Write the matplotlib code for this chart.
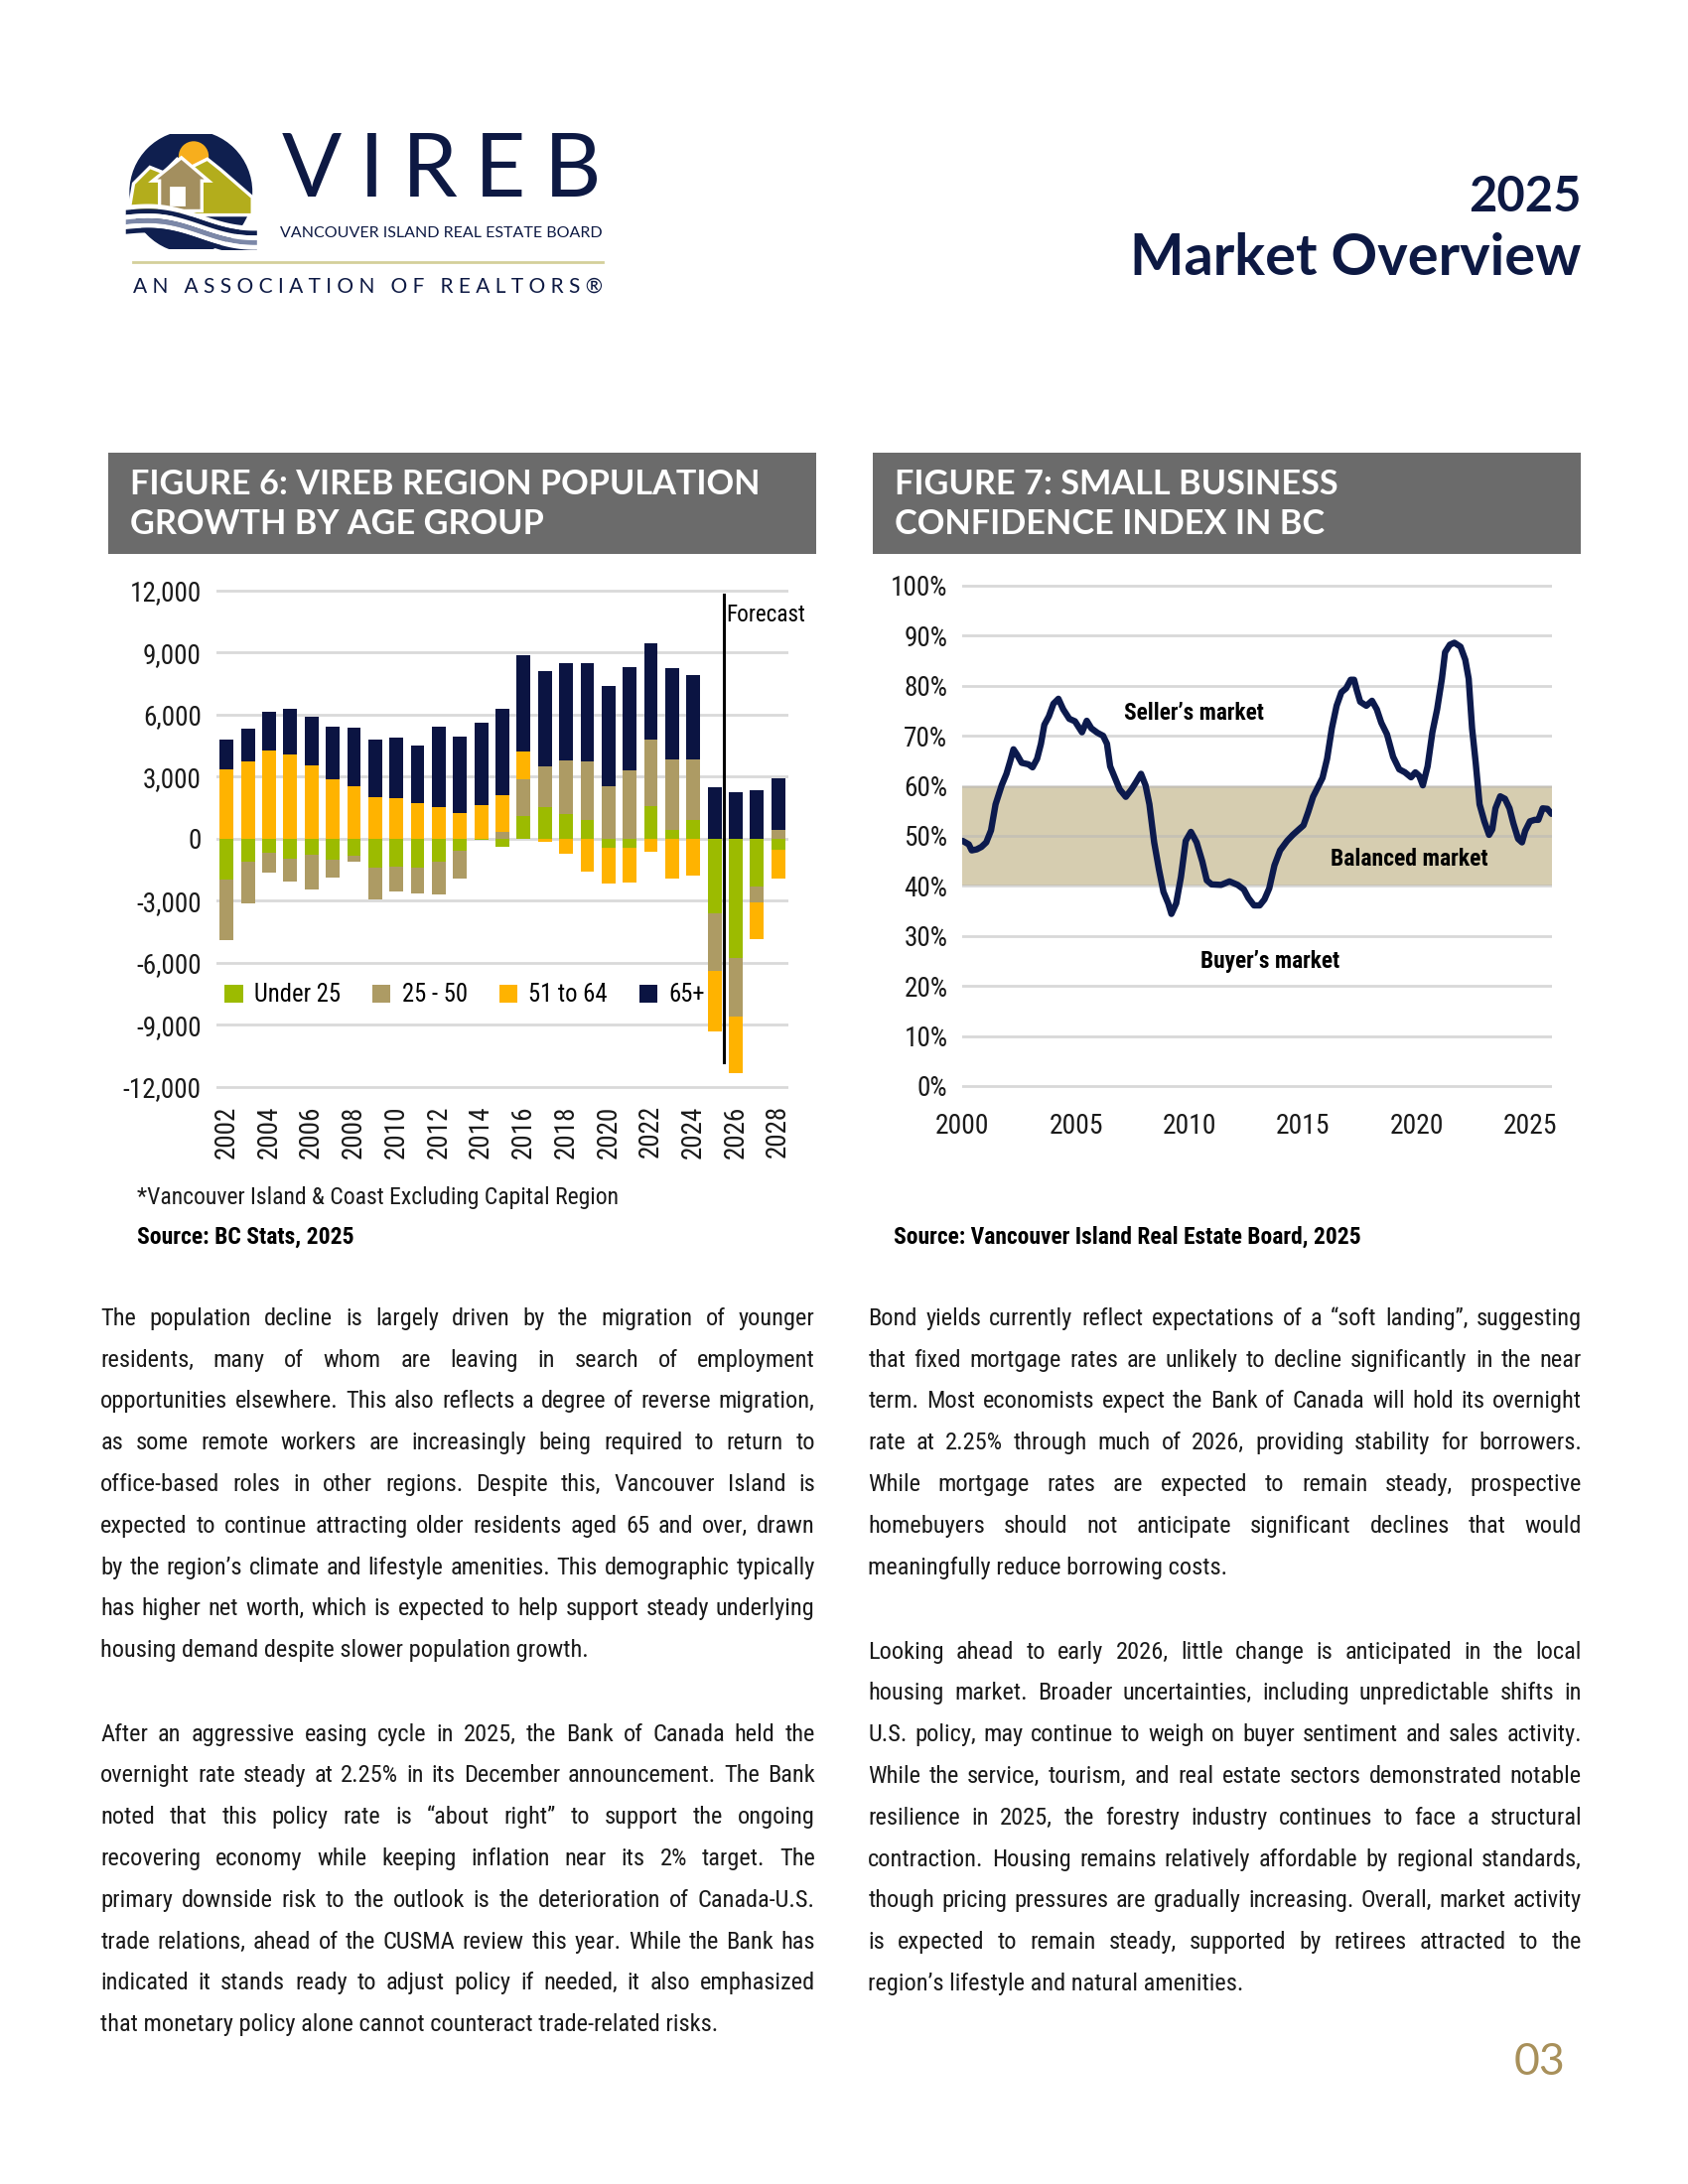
import os
import numpy as np
import matplotlib
matplotlib.use('Agg')
import matplotlib.pyplot as plt
from matplotlib import font_manager as fm
from matplotlib.patches import Rectangle, Circle, Polygon

# ---------------- DATA ----------------
years = list(range(2002, 2029))
under_25 = [-1960, -1130, -670, -960, -760, -1000, -840, -1380, -1360, -1390, -1120, -580, -80,
            -380, 1100, 1500, 1170, 890, -450, -450, 1580, 410, 890, -3590, -5760, -2290, -520]
age_25_50 = [-2960, -2000, -980, -1120, -1720, -890, -290, -1560, -1200, -1260, -1600, -1350, 0,
             330, 1750, 1970, 2590, 2820, 2540, 3280, 3200, 3440, 2960, -2800, -2850, -790, 400]
age_51_64 = [3370, 3730, 4250, 4060, 3540, 2890, 2540, 2010, 1940, 1700, 1500, 1220, 1600,
             1750, 1360, -140, -720, -1580, -1720, -1680, -620, -1910, -1790, -2930, -2720, -1790, -1390]
age_65_plus = [1410, 1600, 1900, 2210, 2370, 2540, 2820, 2790, 2930, 2800, 3900, 3700, 4000,
               4180, 4630, 4640, 4730, 4770, 4830, 5010, 4660, 4370, 4040, 2490, 2220, 2360, 2510]
age_groups = ['Under 25', '25 - 50', '51 to 64', '65+']
pop_yticks = [-12000, -9000, -6000, -3000, 0, 3000, 6000, 9000, 12000]
pop_xticks = list(range(2002, 2029, 2))
forecast_label = 'Forecast'

sbci_time = [2000.0, 2000.27, 2000.4, 2000.62, 2000.83, 2001.04, 2001.25, 2001.45, 2001.72, 2001.93,
             2002.1, 2002.24, 2002.4, 2002.6, 2002.9, 2003.08, 2003.28, 2003.45, 2003.6, 2003.8,
             2004.0, 2004.22, 2004.43, 2004.7, 2004.95, 2005.26, 2005.47, 2005.67, 2005.94, 2006.19,
             2006.36, 2006.5, 2006.71, 2006.92, 2007.19, 2007.44, 2007.65, 2007.86, 2008.06, 2008.23,
             2008.44, 2008.65, 2008.85, 2009.06, 2009.2, 2009.41, 2009.62, 2009.83, 2010.06, 2010.31,
             2010.56, 2010.76, 2010.97, 2011.39, 2011.76, 2012.12, 2012.39, 2012.59, 2012.84, 2013.09,
             2013.3, 2013.51, 2013.74, 2013.99, 2014.3, 2014.55, 2014.82, 2015.02, 2015.23, 2015.44,
             2015.65, 2015.86, 2016.06, 2016.27, 2016.48, 2016.69, 2016.9, 2017.1, 2017.25, 2017.37,
             2017.52, 2017.79, 2018.04, 2018.25, 2018.45, 2018.7, 2018.97, 2019.24, 2019.49, 2019.76,
             2019.95, 2020.12, 2020.28, 2020.49, 2020.7, 2020.91, 2021.12, 2021.26, 2021.47, 2021.67,
             2021.94, 2022.15, 2022.3, 2022.45, 2022.61, 2022.78, 2022.99, 2023.2, 2023.34, 2023.48,
             2023.69, 2023.9, 2024.1, 2024.27, 2024.48, 2024.65, 2024.79, 2025.0, 2025.21, 2025.37,
             2025.56, 2025.77, 2025.95]
sbci_value = [49.0, 48.3, 47.1, 47.3, 47.8, 48.7, 51.1, 56.3, 60.1, 62.4,
              65.0, 67.3, 66.2, 64.6, 64.3, 63.7, 65.4, 68.4, 72.2, 73.9,
              76.4, 77.4, 75.3, 73.4, 72.9, 70.7, 73.0, 71.5, 70.6, 70.0,
              68.4, 63.9, 61.6, 59.3, 57.8, 59.3, 60.8, 62.4, 60.1, 56.3,
              48.7, 43.3, 38.8, 36.5, 34.4, 36.5, 41.8, 49.0, 50.8, 48.7,
              44.9, 41.1, 40.3, 40.2, 40.9, 40.2, 39.3, 37.6, 36.1, 36.1,
              37.3, 39.5, 44.1, 47.1, 49.0, 50.2, 51.3, 52.1, 54.8, 57.8,
              59.7, 61.6, 65.4, 71.5, 76.0, 78.7, 79.5, 81.2, 81.2, 79.1,
              76.8, 76.0, 77.0, 75.3, 72.6, 70.3, 65.8, 63.3, 62.7, 61.7,
              62.7, 62.0, 60.1, 63.9, 70.7, 75.3, 81.4, 86.7, 88.2, 88.6,
              87.8, 85.2, 81.4, 71.5, 64.6, 56.3, 52.9, 50.2, 51.3, 55.5,
              57.9, 57.4, 55.5, 52.5, 49.4, 48.7, 51.0, 52.9, 53.2, 53.2,
              55.5, 55.4, 54.4]
sbci_yticks = list(range(0, 101, 10))
sbci_xticks = [2000, 2005, 2010, 2015, 2020, 2025]
balanced_band = [40, 60]
market_labels = ['Seller\u2019s market', 'Balanced market', 'Buyer\u2019s market']

# ---------------- TEXT ----------------
left_par1 = [
    "The population decline is largely driven by the migration of younger",
    "residents, many of whom are leaving in search of employment",
    "opportunities elsewhere. This also reflects a degree of reverse migration,",
    "as some remote workers are increasingly being required to return to",
    "office-based roles in other regions. Despite this, Vancouver Island is",
    "expected to continue attracting older residents aged 65 and over, drawn",
    "by the region\u2019s climate and lifestyle amenities. This demographic typically",
    "has higher net worth, which is expected to help support steady underlying",
    "housing demand despite slower population growth.",
]
left_par2 = [
    "After an aggressive easing cycle in 2025, the Bank of Canada held the",
    "overnight rate steady at 2.25% in its December announcement. The Bank",
    "noted that this policy rate is \u201cabout right\u201d to support the ongoing",
    "recovering economy while keeping inflation near its 2% target. The",
    "primary downside risk to the outlook is the deterioration of Canada-U.S.",
    "trade relations, ahead of the CUSMA review this year. While the Bank has",
    "indicated it stands ready to adjust policy if needed, it also emphasized",
    "that monetary policy alone cannot counteract trade-related risks.",
]
right_par1 = [
    "Bond yields currently reflect expectations of a \u201csoft landing\u201d, suggesting",
    "that fixed mortgage rates are unlikely to decline significantly in the near",
    "term. Most economists expect the Bank of Canada will hold its overnight",
    "rate at 2.25% through much of 2026, providing stability for borrowers.",
    "While mortgage rates are expected to remain steady, prospective",
    "homebuyers should not anticipate significant declines that would",
    "meaningfully reduce borrowing costs.",
]
right_par2 = [
    "Looking ahead to early 2026, little change is anticipated in the local",
    "housing market. Broader uncertainties, including unpredictable shifts in",
    "U.S. policy, may continue to weigh on buyer sentiment and sales activity.",
    "While the service, tourism, and real estate sectors demonstrated notable",
    "resilience in 2025, the forestry industry continues to face a structural",
    "contraction. Housing remains relatively affordable by regional standards,",
    "though pricing pressures are gradually increasing. Overall, market activity",
    "is expected to remain steady, supported by retirees attracted to the",
    "region\u2019s lifestyle and natural amenities.",
]

# ---------------- FONTS ----------------
def find_font(cands, weight='normal'):
    for fam, stretch, need in cands:
        try:
            p = fm.findfont(fm.FontProperties(family=fam, stretch=stretch, weight=weight),
                            fallback_to_default=False)
        except Exception:
            continue
        name = os.path.basename(p).lower()
        if need and not any(k in name for k in need):
            continue
        return p
    return fm.findfont(fm.FontProperties(family='DejaVu Sans', weight=weight))

cond_keys = ('cond', 'narrow')
cond_cands = [('Roboto Condensed', 'normal', cond_keys), ('Open Sans Condensed', 'condensed', cond_keys),
              ('Noto Sans Condensed', 'normal', cond_keys), ('Liberation Sans Narrow', 'normal', cond_keys),
              ('Roboto', 'condensed', cond_keys), ('Open Sans', 'condensed', cond_keys),
              ('Noto Sans', 'condensed', cond_keys), ('DejaVu Sans', 'condensed', cond_keys),
              ('Liberation Sans', 'normal', None)]
F_COND = find_font(cond_cands, 'normal')
F_COND_B = find_font(cond_cands, 'semibold')
F_HEAD = find_font([('Lato', 'normal', None), ('Open Sans', 'normal', None), ('DejaVu Sans', 'normal', None)], 'bold')
F_LOGO = find_font([('Lato', 'normal', None), ('DejaVu Sans', 'normal', None)], 'normal')

W, H = 1700, 2200
P = 1.012  # layout scale of the measured page coordinates
fig = plt.figure(figsize=(8.5, 11), dpi=200)
fig.patch.set_facecolor('white')
renderer = fig.canvas.get_renderer()


def fx(x):
    return x * P / W


def fy(y):
    return 1 - y * P / H


def FP(path, size):
    return fm.FontProperties(fname=path, size=size)


def width_px(s, path, size):
    t = fig.text(0, 0, s, fontproperties=FP(path, size))
    w = t.get_window_extent(renderer).width
    t.remove()
    return w


def fit(s, path, target, max_size=None):
    size = 20 * target * P / width_px(s, path, 20)
    if max_size is not None:
        size = min(size, max_size)
    return size


def spread(pieces, x0, x1, y, path, size, color):
    """Place pieces so that the first starts at x0 and the last ends at x1 (justified)."""
    ts = [fig.text(0, 0, w, fontproperties=FP(path, size), color=color, ha='left', va='center')
          for w in pieces]
    ws = [t.get_window_extent(renderer).width for t in ts]
    X0, X1 = x0 * P, x1 * P
    gap = (X1 - X0 - sum(ws)) / max(len(pieces) - 1, 1)
    X = X0
    for t, w in zip(ts, ws):
        t.set_position((X / W, fy(y)))
        X += w + gap


NAVY = '#0d1943'
TXT = '#1a1a1a'

# ---------------- LOGO ----------------
lax = fig.add_axes([fx(122), fy(248), 136 * P / W, 115 * P / H])
lax.set_xlim(0, 1.0)
lax.set_ylim(0, 0.846)
lax.set_aspect('equal')
lax.axis('off')
lax.add_patch(Circle((0.5, 0.42), 0.44, color='#0f1f4f', zorder=1))
lax.add_patch(Circle((0.52, 0.68), 0.1, color='#f7ae1d', zorder=2))
lax.add_patch(Polygon([(0.05, 0.30), (0.08, 0.48), (0.2, 0.6), (0.3, 0.56), (0.4, 0.66), (0.5, 0.6),
                       (0.62, 0.66), (0.72, 0.58), (0.95, 0.38), (0.95, 0.25), (0.05, 0.25)],
                      closed=True, facecolor='#b3ad1c', edgecolor='white', lw=1.2, zorder=3))
lax.add_patch(Polygon([(0.27, 0.28), (0.27, 0.5), (0.22, 0.5), (0.43, 0.67), (0.63, 0.5), (0.58, 0.5),
                       (0.58, 0.28)], closed=True, facecolor='#a38f5f', edgecolor='white', lw=1.2, zorder=4))
lax.add_patch(Rectangle((0.35, 0.33), 0.1, 0.12, color='white', zorder=5))
xx = np.linspace(0.02, 0.98, 60)
base = 0.32 - 0.12 * (xx - 0.02) + 0.04 * np.sin(xx * 5.5)
for i, c in enumerate(['#ffffff', '#0f1f4f', '#ffffff', '#7c88a8', '#ffffff', '#0f1f4f']):
    lax.fill_between(xx, base - 0.035 * (i + 1), base - 0.035 * i, color=c, lw=0, zorder=6)

spread(list('VIREB'), 280, 598, 171, F_LOGO, 32, NAVY)
sub = 'VANCOUVER ISLAND REAL ESTATE BOARD'
fig.text(fx(279), fy(232), sub, fontproperties=FP(F_LOGO, fit(sub, F_LOGO, 320)), color=NAVY,
         va='center', ha='left')
fig.add_artist(plt.Line2D([fx(132), fx(600)], [fy(261), fy(261)], color='#d4cf9a', lw=1.0,
                          transform=fig.transFigure))
assoc = 'A N   A S S O C I A T I O N   O F   R E A L T O R S \u00ae'
fig.text(fx(132), fy(285), assoc, fontproperties=FP(F_LOGO, fit(assoc, F_LOGO, 468)), color=NAVY,
         va='center', ha='left')

# ---------------- TITLE ----------------
s_t = fit('Market Overview', F_HEAD, 449)
fig.text(fx(1574), fy(257), 'Market Overview', fontproperties=FP(F_HEAD, s_t), color=NAVY,
         ha='right', va='center')
fig.text(fx(1574), fy(196), '2025', fontproperties=FP(F_HEAD, fit('2025', F_HEAD, 112)), color=NAVY,
         ha='right', va='center')

# ---------------- HEADERS ----------------
s_h = fit('FIGURE 6: VIREB REGION POPULATION', F_HEAD, 627)
for x0, lines in [(108, ['FIGURE 6: VIREB REGION POPULATION', 'GROWTH BY AGE GROUP']),
                  (869, ['FIGURE 7: SMALL BUSINESS', 'CONFIDENCE INDEX IN BC'])]:
    fig.add_artist(Rectangle((fx(x0), fy(551)), 704 * P / W, 100 * P / H, transform=fig.transFigure,
                             facecolor='#6b6b6b', edgecolor='none'))
    for ln, yy in zip(lines, [482, 522]):
        fig.text(fx(x0 + 21), fy(yy), ln, fontproperties=FP(F_HEAD, s_h), color='white',
                 ha='left', va='center')

# ---------------- FIGURE 6 ----------------
ax1 = fig.add_axes([fx(215), fy(1084), 570 * P / W, 498.5 * P / H])
colors6 = ['#9cbb00', '#ad9b64', '#ffb300', '#0b1442']
pos_base = np.zeros(len(years))
neg_base = np.zeros(len(years))
handles = []
for vals, col, name in zip([under_25, age_25_50, age_51_64, age_65_plus], colors6, age_groups):
    v = np.array(vals, dtype=float)
    bottom = np.where(v >= 0, pos_base, neg_base)
    b = ax1.bar(years, v, bottom=bottom, width=0.65, color=col, label=name, zorder=2)
    handles.append(b)
    pos_base += np.where(v > 0, v, 0)
    neg_base += np.where(v < 0, v, 0)
ax1.set_xlim(2001.5, 2028.5)
ax1.set_ylim(-12100, 12100)
ax1.set_yticks(pop_yticks)
ax1.set_xticks(pop_xticks)
ax1.yaxis.grid(True, color='#d9d9d9', lw=1.0)
ax1.set_axisbelow(True)
for sp in ax1.spines.values():
    sp.set_visible(False)
ax1.tick_params(length=0)
s_tick6 = fit('-12,000', F_COND, 78)
ax1.set_yticklabels([f'{v:,}' for v in pop_yticks], fontproperties=FP(F_COND, s_tick6), color=TXT)
s_xt6 = fit('2002', F_COND, 53)
ax1.set_xticklabels([str(y) for y in pop_xticks], rotation=90, fontproperties=FP(F_COND, s_xt6),
                    color=TXT)
ax1.tick_params(axis='y', pad=s_tick6 * 0.55)
ax1.tick_params(axis='x', pad=s_xt6 * 0.6)
fc_x = (years[-4] + years[-3]) / 2 - 0.05
ax1.plot([fc_x, fc_x], [-10800, 11800], color='black', lw=1.1, zorder=4)
ax1.text(fc_x + 0.08, 10800, forecast_label, fontproperties=FP(F_COND, fit(forecast_label, F_COND, 79)),
         color='black', ha='left', va='center', zorder=5)
s_leg = fit('Under 25', F_COND, 86)
ax1.legend(handles, age_groups, loc='center left', bbox_to_anchor=(0.015, 0.1875), ncol=4, frameon=False,
           prop=FP(F_COND, s_leg), handlelength=0.75, handleheight=0.75, handletextpad=0.45,
           columnspacing=1.3, borderaxespad=0, borderpad=0)

cap = '*Vancouver Island & Coast Excluding Capital Region'
fig.text(fx(136), fy(1192), cap, fontproperties=FP(F_COND, fit(cap, F_COND, 479)), color=TXT,
         ha='left', va='center')
src6 = 'Source: BC Stats, 2025'
fig.text(fx(136), fy(1231), src6, fontproperties=FP(F_COND_B, fit(src6, F_COND_B, 215)), color='black',
         ha='left', va='center')

# ---------------- FIGURE 7 ----------------
ax2 = fig.add_axes([fx(958), fy(1083), 586 * P / W, 502 * P / H])
ax2.set_xlim(2000, 2025.95)
ax2.set_ylim(-0.4, 100.4)
ax2.axhspan(balanced_band[0], balanced_band[1], color='#d6cdb0', lw=0, zorder=0.5)
for v in sbci_yticks:
    ax2.axhline(v, color='#b8b8b8', alpha=0.55, lw=1.0, zorder=1)
ax2.plot(sbci_time, sbci_value, color='#0c1a4d', lw=2.3, solid_joinstyle='round',
         solid_capstyle='round', zorder=3)
for sp in ax2.spines.values():
    sp.set_visible(False)
ax2.tick_params(length=0)
ax2.set_yticks(sbci_yticks)
ax2.set_xticks(sbci_xticks)
s_tick7 = fit('100%', F_COND, 57)
ax2.set_yticklabels([f'{v}%' for v in sbci_yticks], fontproperties=FP(F_COND, s_tick7), color=TXT)
ax2.set_xticklabels([str(v) for v in sbci_xticks], fontproperties=FP(F_COND, fit('2000', F_COND, 54)),
                    color=TXT)
ax2.tick_params(axis='y', pad=s_tick7 * 0.55)
ax2.tick_params(axis='x', pad=s_tick7 * 0.9)
for lab, (tx, ty), wpx in zip(market_labels, [(2010.2, 74.6), (2019.7, 45.3), (2013.55, 24.9)],
                              [139, 157, 139]):
    ax2.text(tx, ty, lab, fontproperties=FP(F_COND_B, fit(lab, F_COND_B, wpx)), color='black',
             ha='center', va='center', zorder=4)
src7 = 'Source: Vancouver Island Real Estate Board, 2025'
fig.text(fx(889), fy(1231), src7, fontproperties=FP(F_COND_B, fit(src7, F_COND_B, 465)), color='black',
         ha='left', va='center')

# ---------------- BODY TEXT ----------------
all_lines = left_par1[:-1] + left_par2[:-1] + right_par1[:-1] + right_par2[:-1]
body_size = 13.5
maxw = max(width_px(l, F_COND, body_size) for l in all_lines)
body_size = min(body_size, body_size * 700 * P / maxw)
LINE = 41.3


def paragraph(lines, x0, x1, y0):
    for i, line in enumerate(lines):
        y = y0 + i * LINE
        if i == len(lines) - 1:
            fig.text(fx(x0), fy(y), line, fontproperties=FP(F_COND, body_size), color=TXT,
                     ha='left', va='center')
        else:
            spread(line.split(' '), x0, x1, y, F_COND, body_size, TXT)


paragraph(left_par1, 100, 811, 1312.5)
paragraph(left_par2, 100, 811, 1726.4)
paragraph(right_par1, 864, 1574, 1312.5)
paragraph(right_par2, 864, 1574, 1644.4)

fig.text(fx(1558), fy(2053), '03', fontproperties=FP(F_LOGO, fit('03', F_LOGO, 51)), color='#a8905a',
         ha='right', va='center')

fig.savefig('out.png', dpi=200, facecolor='white')
